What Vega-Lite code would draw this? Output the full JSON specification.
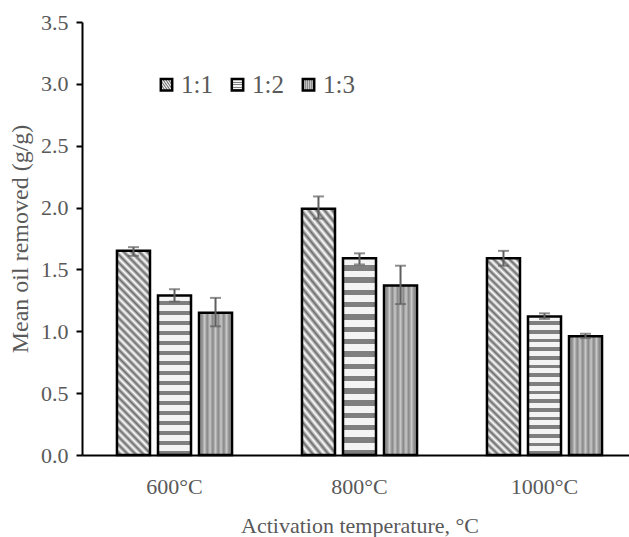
{
  "$schema": "https://vega.github.io/schema/vega-lite/v6.json",
  "width": 555,
  "height": 433,
  "autosize": "none",
  "padding": {"left": 82, "top": 22, "right": 0, "bottom": 82},
  "background": "white",
  "config": {
    "font": "Liberation Serif",
    "view": {"stroke": null},
    "axis": {"grid": false, "labelColor": "#595959", "titleColor": "#595959", "titleFontWeight": "normal", "domainColor": "black", "tickColor": "black"}
  },
  "data": {
    "values": [
      {"temp": "600°C", "ratio": "1:1", "mean": 1.65, "lo": 1.61, "hi": 1.68},
      {"temp": "600°C", "ratio": "1:2", "mean": 1.29, "lo": 1.24, "hi": 1.34},
      {"temp": "600°C", "ratio": "1:3", "mean": 1.15, "lo": 1.04, "hi": 1.27},
      {"temp": "800°C", "ratio": "1:1", "mean": 1.99, "lo": 1.91, "hi": 2.09},
      {"temp": "800°C", "ratio": "1:2", "mean": 1.59, "lo": 1.54, "hi": 1.63},
      {"temp": "800°C", "ratio": "1:3", "mean": 1.37, "lo": 1.22, "hi": 1.53},
      {"temp": "1000°C", "ratio": "1:1", "mean": 1.59, "lo": 1.53, "hi": 1.65},
      {"temp": "1000°C", "ratio": "1:2", "mean": 1.12, "lo": 1.10, "hi": 1.145},
      {"temp": "1000°C", "ratio": "1:3", "mean": 0.96, "lo": 0.945, "hi": 0.98}
    ]
  },
  "encoding": {
    "x": {
      "field": "temp", "type": "nominal", "sort": ["600°C", "800°C", "1000°C"],
      "scale": {"paddingInner": 0.378, "paddingOuter": 0.189},
      "axis": {"title": "Activation temperature, °C", "labelAngle": 0, "ticks": false, "labelFontSize": 22, "labelPadding": 21, "titleFontSize": 22, "titlePadding": 18, "domainWidth": 2}
    },
    "xOffset": {"field": "ratio", "type": "nominal", "scale": {"paddingInner": 0.195, "paddingOuter": 0}}
  },
  "layer": [
    {
      "mark": {"type": "bar", "stroke": "black", "strokeWidth": 2.5},
      "encoding": {
        "y": {
          "field": "mean", "type": "quantitative",
          "scale": {"domain": [0, 3.5]},
          "axis": {"title": "Mean oil removed (g/g)", "values": [0, 0.5, 1, 1.5, 2, 2.5, 3, 3.5], "format": ".1f", "labelFontSize": 22, "titleFontSize": 24, "tickSize": 6, "labelPadding": 8, "titlePadding": 8, "domainWidth": 2, "tickWidth": 2}
        },
        "fill": {
          "field": "ratio", "type": "nominal",
          "scale": {
            "domain": ["1:1", "1:2", "1:3"],
            "range": [
              {"expr": "{gradient:'linear',x1:0,y1:1,x2:0.187,y2:-0.134,stops:[{offset:0,color:'#fff'},{offset:0.0167,color:'#6a6a6a'},{offset:0.0333,color:'#fff'},{offset:0.05,color:'#6a6a6a'},{offset:0.0667,color:'#fff'},{offset:0.0833,color:'#6a6a6a'},{offset:0.1,color:'#fff'},{offset:0.1167,color:'#6a6a6a'},{offset:0.1333,color:'#fff'},{offset:0.15,color:'#6a6a6a'},{offset:0.1667,color:'#fff'},{offset:0.1833,color:'#6a6a6a'},{offset:0.2,color:'#fff'},{offset:0.2167,color:'#6a6a6a'},{offset:0.2333,color:'#fff'},{offset:0.25,color:'#6a6a6a'},{offset:0.2667,color:'#fff'},{offset:0.2833,color:'#6a6a6a'},{offset:0.3,color:'#fff'},{offset:0.3167,color:'#6a6a6a'},{offset:0.3333,color:'#fff'},{offset:0.35,color:'#6a6a6a'},{offset:0.3667,color:'#fff'},{offset:0.3833,color:'#6a6a6a'},{offset:0.4,color:'#fff'},{offset:0.4167,color:'#6a6a6a'},{offset:0.4333,color:'#fff'},{offset:0.45,color:'#6a6a6a'},{offset:0.4667,color:'#fff'},{offset:0.4833,color:'#6a6a6a'},{offset:0.5,color:'#fff'},{offset:0.5167,color:'#6a6a6a'},{offset:0.5333,color:'#fff'},{offset:0.55,color:'#6a6a6a'},{offset:0.5667,color:'#fff'},{offset:0.5833,color:'#6a6a6a'},{offset:0.6,color:'#fff'},{offset:0.6167,color:'#6a6a6a'},{offset:0.6333,color:'#fff'},{offset:0.65,color:'#6a6a6a'},{offset:0.6667,color:'#fff'},{offset:0.6833,color:'#6a6a6a'},{offset:0.7,color:'#fff'},{offset:0.7167,color:'#6a6a6a'},{offset:0.7333,color:'#fff'},{offset:0.75,color:'#6a6a6a'},{offset:0.7667,color:'#fff'},{offset:0.7833,color:'#6a6a6a'},{offset:0.8,color:'#fff'},{offset:0.8167,color:'#6a6a6a'},{offset:0.8333,color:'#fff'},{offset:0.85,color:'#6a6a6a'},{offset:0.8667,color:'#fff'},{offset:0.8833,color:'#6a6a6a'},{offset:0.9,color:'#fff'},{offset:0.9167,color:'#6a6a6a'},{offset:0.9333,color:'#fff'},{offset:0.95,color:'#6a6a6a'},{offset:0.9667,color:'#fff'},{offset:0.9833,color:'#6a6a6a'},{offset:1,color:'#fff'}]}"},
              {"expr": "{gradient:'linear',x1:0,y1:0,x2:0,y2:1,stops:[{offset:0,color:'#f4f4f4'},{offset:0.035,color:'#f4f4f4'},{offset:0.035,color:'#7f7f7f'},{offset:0.0625,color:'#7f7f7f'},{offset:0.0625,color:'#f4f4f4'},{offset:0.0975,color:'#f4f4f4'},{offset:0.0975,color:'#7f7f7f'},{offset:0.125,color:'#7f7f7f'},{offset:0.125,color:'#f4f4f4'},{offset:0.16,color:'#f4f4f4'},{offset:0.16,color:'#7f7f7f'},{offset:0.1875,color:'#7f7f7f'},{offset:0.1875,color:'#f4f4f4'},{offset:0.2225,color:'#f4f4f4'},{offset:0.2225,color:'#7f7f7f'},{offset:0.25,color:'#7f7f7f'},{offset:0.25,color:'#f4f4f4'},{offset:0.285,color:'#f4f4f4'},{offset:0.285,color:'#7f7f7f'},{offset:0.3125,color:'#7f7f7f'},{offset:0.3125,color:'#f4f4f4'},{offset:0.3475,color:'#f4f4f4'},{offset:0.3475,color:'#7f7f7f'},{offset:0.375,color:'#7f7f7f'},{offset:0.375,color:'#f4f4f4'},{offset:0.41,color:'#f4f4f4'},{offset:0.41,color:'#7f7f7f'},{offset:0.4375,color:'#7f7f7f'},{offset:0.4375,color:'#f4f4f4'},{offset:0.4725,color:'#f4f4f4'},{offset:0.4725,color:'#7f7f7f'},{offset:0.5,color:'#7f7f7f'},{offset:0.5,color:'#f4f4f4'},{offset:0.535,color:'#f4f4f4'},{offset:0.535,color:'#7f7f7f'},{offset:0.5625,color:'#7f7f7f'},{offset:0.5625,color:'#f4f4f4'},{offset:0.5975,color:'#f4f4f4'},{offset:0.5975,color:'#7f7f7f'},{offset:0.625,color:'#7f7f7f'},{offset:0.625,color:'#f4f4f4'},{offset:0.66,color:'#f4f4f4'},{offset:0.66,color:'#7f7f7f'},{offset:0.6875,color:'#7f7f7f'},{offset:0.6875,color:'#f4f4f4'},{offset:0.7225,color:'#f4f4f4'},{offset:0.7225,color:'#7f7f7f'},{offset:0.75,color:'#7f7f7f'},{offset:0.75,color:'#f4f4f4'},{offset:0.785,color:'#f4f4f4'},{offset:0.785,color:'#7f7f7f'},{offset:0.8125,color:'#7f7f7f'},{offset:0.8125,color:'#f4f4f4'},{offset:0.8475,color:'#f4f4f4'},{offset:0.8475,color:'#7f7f7f'},{offset:0.875,color:'#7f7f7f'},{offset:0.875,color:'#f4f4f4'},{offset:0.91,color:'#f4f4f4'},{offset:0.91,color:'#7f7f7f'},{offset:0.9375,color:'#7f7f7f'},{offset:0.9375,color:'#f4f4f4'},{offset:0.9725,color:'#f4f4f4'},{offset:0.9725,color:'#7f7f7f'},{offset:1,color:'#7f7f7f'}]}"},
              {"expr": "{gradient:'linear',x1:0,y1:0,x2:1,y2:0,stops:[{offset:0,color:'#c8c8c8'},{offset:0.0833,color:'#868686'},{offset:0.1667,color:'#c8c8c8'},{offset:0.25,color:'#868686'},{offset:0.3333,color:'#c8c8c8'},{offset:0.4167,color:'#868686'},{offset:0.5,color:'#c8c8c8'},{offset:0.5833,color:'#868686'},{offset:0.6667,color:'#c8c8c8'},{offset:0.75,color:'#868686'},{offset:0.8333,color:'#c8c8c8'},{offset:0.9167,color:'#868686'},{offset:1,color:'#c8c8c8'}]}"}
            ]
          },
          "legend": {
            "orient": "none", "legendX": 72, "legendY": 50, "direction": "horizontal", "title": null,
            "labelFontSize": 25, "labelColor": "#595959", "labelOffset": 2,
            "symbolType": "square", "symbolSize": 130, "symbolStrokeColor": "black", "symbolStrokeWidth": 2.5, "symbolOpacity": 1,
            "columnPadding": 12
          }
        }
      }
    },
    {
      "mark": {"type": "rule", "color": "#5f5f5f", "strokeWidth": 2},
      "encoding": {"y": {"field": "lo", "type": "quantitative"}, "y2": {"field": "hi"}}
    },
    {
      "mark": {"type": "tick", "color": "#5f5f5f", "thickness": 2, "size": 11},
      "encoding": {"y": {"field": "hi", "type": "quantitative"}}
    },
    {
      "mark": {"type": "tick", "color": "#5f5f5f", "thickness": 2, "size": 11},
      "encoding": {"y": {"field": "lo", "type": "quantitative"}}
    }
  ]
}
